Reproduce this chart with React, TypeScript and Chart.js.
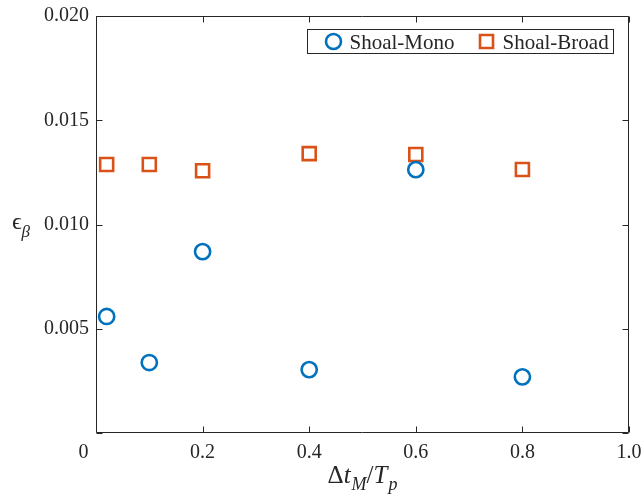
import { useEffect, useRef } from 'react';
import { Chart, registerables } from 'chart.js';

Chart.register(...registerables);

const xValues = [0.02, 0.1, 0.2, 0.4, 0.6, 0.8];
const monoValues = [0.00559, 0.00338, 0.0087, 0.00304, 0.01263, 0.00269];
const broadValues = [0.01288, 0.01288, 0.01258, 0.0134, 0.01336, 0.01264];
const xTicks = [0, 0.2, 0.4, 0.6, 0.8, 1.0];
const yTicks = [0, 0.005, 0.01, 0.015, 0.02];
const seriesNames = ['Shoal-Mono', 'Shoal-Broad'];
const seriesColors = ['#0072BD', '#D95319'];

const FONT = "'Liberation Serif', 'Times New Roman', 'DejaVu Serif', serif";
const AXIS = '#262626';

type Part = { t: string; i?: boolean; sub?: boolean };

function drawRich(ctx: CanvasRenderingContext2D, parts: Part[], cx: number, baseline: number, size: number, subSize: number, subDrop: number) {
  const fontOf = (p: Part) => `${p.i ? 'italic ' : ''}${p.sub ? subSize : size}px ${FONT}`;
  let total = 0;
  const widths = parts.map((p) => {
    ctx.font = fontOf(p);
    const w = ctx.measureText(p.t).width + (p.i && !p.sub ? 1 : 0);
    total += w;
    return w;
  });
  let x = cx - total / 2;
  ctx.textAlign = 'left';
  ctx.textBaseline = 'alphabetic';
  parts.forEach((p, k) => {
    ctx.font = fontOf(p);
    ctx.fillText(p.t, x, baseline + (p.sub ? subDrop : 0));
    x += widths[k];
  });
}

const framePlugin = {
  id: 'matlabFrame',
  afterDatasetsDraw(chart: any) {
    const { ctx, chartArea: a, scales } = chart;
    const xs = scales.x;
    const ys = scales.y;
    ctx.save();
    ctx.strokeStyle = AXIS;
    ctx.lineWidth = 1;
    const L = Math.round(a.left) + 0.5;
    const R = Math.round(a.right) - 0.5;
    const T = Math.round(a.top) + 0.5;
    const B = Math.round(a.bottom) - 0.5;
    ctx.beginPath();
    ctx.rect(L, T, R - L, B - T);
    const tl = 6;
    xTicks.forEach((v) => {
      const px = Math.round(xs.getPixelForValue(v)) + 0.5;
      ctx.moveTo(px, B); ctx.lineTo(px, B - tl);
      ctx.moveTo(px, T); ctx.lineTo(px, T + tl);
    });
    yTicks.forEach((v) => {
      const py = Math.round(ys.getPixelForValue(v)) + 0.5;
      ctx.moveTo(L, py); ctx.lineTo(L + tl, py);
      ctx.moveTo(R, py); ctx.lineTo(R - tl, py);
    });
    ctx.stroke();

    // axis titles
    ctx.fillStyle = AXIS;
    drawRich(ctx, [
      { t: '\u0394' }, { t: 't', i: true }, { t: 'M', i: true, sub: true },
      { t: '/' }, { t: 'T', i: true }, { t: 'p', i: true, sub: true },
    ], (a.left + a.right) / 2, 483, 25, 18, 7);
    drawRich(ctx, [{ t: '\u03F5' }, { t: '\u03B2', i: true, sub: true }], 21, 229, 24, 17, 8);

    // legend
    const fs = 21;
    ctx.font = `${fs}px ${FONT}`;
    const w1 = ctx.measureText(seriesNames[0]).width;
    const w2 = ctx.measureText(seriesNames[1]).width;
    const boxW = Math.round(16 + 26 + w1 + 22 + 26 + w2 + 5);
    const boxH = 24;
    const bx = Math.round(a.right - 16 - boxW) + 0.5;
    const by = Math.round(a.top + 13) + 0.5;
    ctx.fillStyle = '#ffffff';
    ctx.fillRect(bx, by, boxW, boxH);
    ctx.strokeStyle = AXIS;
    ctx.lineWidth = 1;
    ctx.strokeRect(bx, by, boxW, boxH);
    const cy = by + boxH / 2;
    let ix = bx + 16;
    [w1, w2].forEach((w, k) => {
      ctx.strokeStyle = seriesColors[k];
      ctx.lineWidth = 2.6;
      ctx.beginPath();
      if (k === 0) {
        ctx.arc(ix + 10, cy, 7.5, 0, Math.PI * 2);
      } else {
        ctx.rect(ix + 10 - 6.5, cy - 6.5, 13, 13);
      }
      ctx.stroke();
      ctx.fillStyle = AXIS;
      ctx.font = `${fs}px ${FONT}`;
      ctx.textAlign = 'left';
      ctx.textBaseline = 'alphabetic';
      ctx.fillText(seriesNames[k], ix + 26, cy + 7);
      ix += 26 + w + 22;
    });
    ctx.restore();
  },
};

export default function App() {
  const ref = useRef<HTMLCanvasElement | null>(null);
  useEffect(() => {
    document.body.style.margin = '0';
    const canvas = ref.current;
    if (!canvas) return;
    const chart = new Chart(canvas, {
      type: 'scatter',
      data: {
        datasets: [
          {
            label: seriesNames[0],
            data: xValues.map((x, k) => ({ x, y: monoValues[k] })),
            pointStyle: 'circle',
            pointRadius: 7.6,
            pointBorderWidth: 2.6,
            borderColor: seriesColors[0],
            backgroundColor: 'rgba(0,0,0,0)',
          },
          {
            label: seriesNames[1],
            data: xValues.map((x, k) => ({ x, y: broadValues[k] })),
            pointStyle: 'rect',
            pointRadius: 9.2,
            pointBorderWidth: 2.6,
            borderColor: seriesColors[1],
            backgroundColor: 'rgba(0,0,0,0)',
          },
        ],
      },
      options: {
        responsive: false,
        animation: false,
        layout: { padding: { top: 16, right: 13, left: 0, bottom: 0 } },
        plugins: { legend: { display: false }, tooltip: { enabled: false } },
        scales: {
          x: {
            type: 'linear',
            min: 0,
            max: 1,
            afterBuildTicks: (s: any) => { s.ticks = xTicks.map((v) => ({ value: v })); },
            afterFit: (s: any) => { s.height = 67; s.paddingLeft = 0; s.paddingRight = 0; },
            grid: { display: false, drawTicks: false },
            border: { display: false },
            ticks: {
              padding: 8,
              maxRotation: 0,
              autoSkip: false,
              color: AXIS,
              font: { family: FONT, size: 20 },
              callback: (v: any) => (Number(v) === 0 ? '0     ' : Number(v).toFixed(1)),
            },
          },
          y: {
            type: 'linear',
            min: 0,
            max: 0.02,
            afterBuildTicks: (s: any) => { s.ticks = yTicks.map((v) => ({ value: v })); },
            afterFit: (s: any) => { s.width = 96; s.paddingTop = 0; s.paddingBottom = 0; },
            grid: { display: false, drawTicks: false },
            border: { display: false },
            ticks: {
              padding: 7,
              autoSkip: false,
              color: AXIS,
              font: { family: FONT, size: 20 },
              callback: (v: any) => (Number(v) === 0 ? '' : Number(v).toFixed(3)),
            },
          },
        },
      },
      plugins: [framePlugin],
    });
    return () => chart.destroy();
  }, []);
  return <canvas ref={ref} width={642} height={500} style={{ display: 'block' }} />;
}
